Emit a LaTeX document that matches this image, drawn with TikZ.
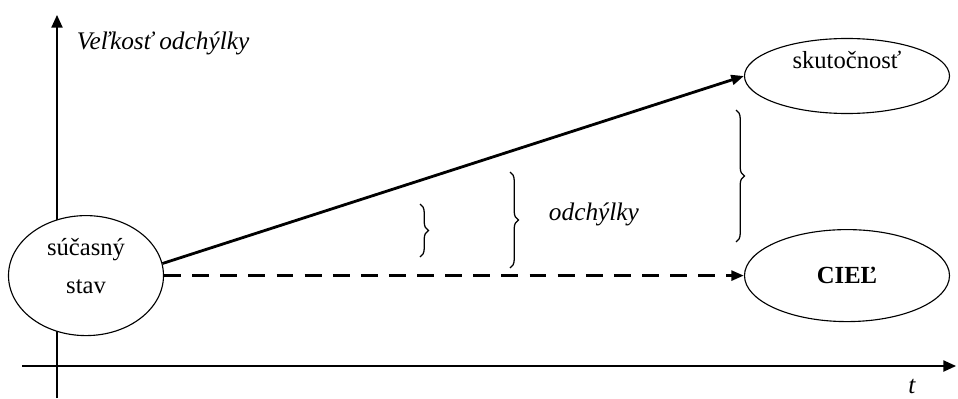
\documentclass[tikz,border=0pt]{standalone}
\usepackage{fontspec}
\setmainfont{Liberation Serif}
\usetikzlibrary{arrows.meta,decorations.pathreplacing,shapes.geometric}
\begin{document}
\begin{tikzpicture}[
  stav/.style={draw=black, fill=white, ellipse, line width=0.8pt, inner sep=0pt, font=\fontsize{17.5}{23}\selectfont, align=center},
  os/.style={line width=1pt, -{Triangle[length=9pt,width=8pt]}},
  sipka/.style={line width=2pt, -{Triangle[length=9pt,width=7pt]}},
  zatvorka/.style={decorate, decoration={brace, amplitude=6pt}, line width=0.9pt},
  popis/.style={font=\fontsize{18}{23}\selectfont\itshape}
]
\useasboundingbox (0,0) rectangle (23.95,9.95);
% osi
\coordinate (o1) at (1.425,0);
\coordinate (o2) at (1.425,9.575);
\coordinate (t1) at (0.55,0.8);
\coordinate (t2) at (23.9,0.8);
\draw[os] (o1) -- (o2);
\draw[os] (t1) -- (t2);
\node[popis, anchor=west] (velkost) at (1.8,8.875) {Veľkosť odchýlky};
\node[popis] (t) at (22.8,0.3) {t};
% stavy
\node[stav, minimum width=3.875cm, minimum height=3cm,
  label={[align=center, font=\fontsize{17.5}{27}\selectfont, yshift=0.25cm]center:súčasný\\stav}] (sucasny) at (2.15,3.06) {};
\node[stav, minimum width=5.125cm, minimum height=1.875cm,
  label={[font=\fontsize{17.5}{23}\selectfont, yshift=0.4cm]center:skutočnosť}] (skut) at (21.175,8.05) {};
\node[stav, minimum width=5.125cm, minimum height=2.3cm, font=\fontsize{17.5}{23}\selectfont\bfseries] (ciel) at (21.175,3.06) {CIEĽ};
% sipky
\draw[sipka] (sucasny.9) -- (skut.west);
\draw[sipka, line width=2.2pt, dash pattern=on 12pt off 8pt] (sucasny.east) -- (ciel.west);
% odchylky
\coordinate (z1a) at (10.5,4.85);
\coordinate (z1b) at (10.5,3.525);
\coordinate (z2a) at (12.75,5.65);
\coordinate (z2b) at (12.75,3.25);
\coordinate (z3a) at (18.4,7.2);
\coordinate (z3b) at (18.4,3.9);
\draw[zatvorka] (z1a) -- (z1b);
\draw[zatvorka] (z2a) -- (z2b);
\draw[zatvorka] (z3a) -- (z3b);
\node[popis, anchor=west] (odchylky) at (13.6,4.6) {odchýlky};
\end{tikzpicture}
\end{document}
